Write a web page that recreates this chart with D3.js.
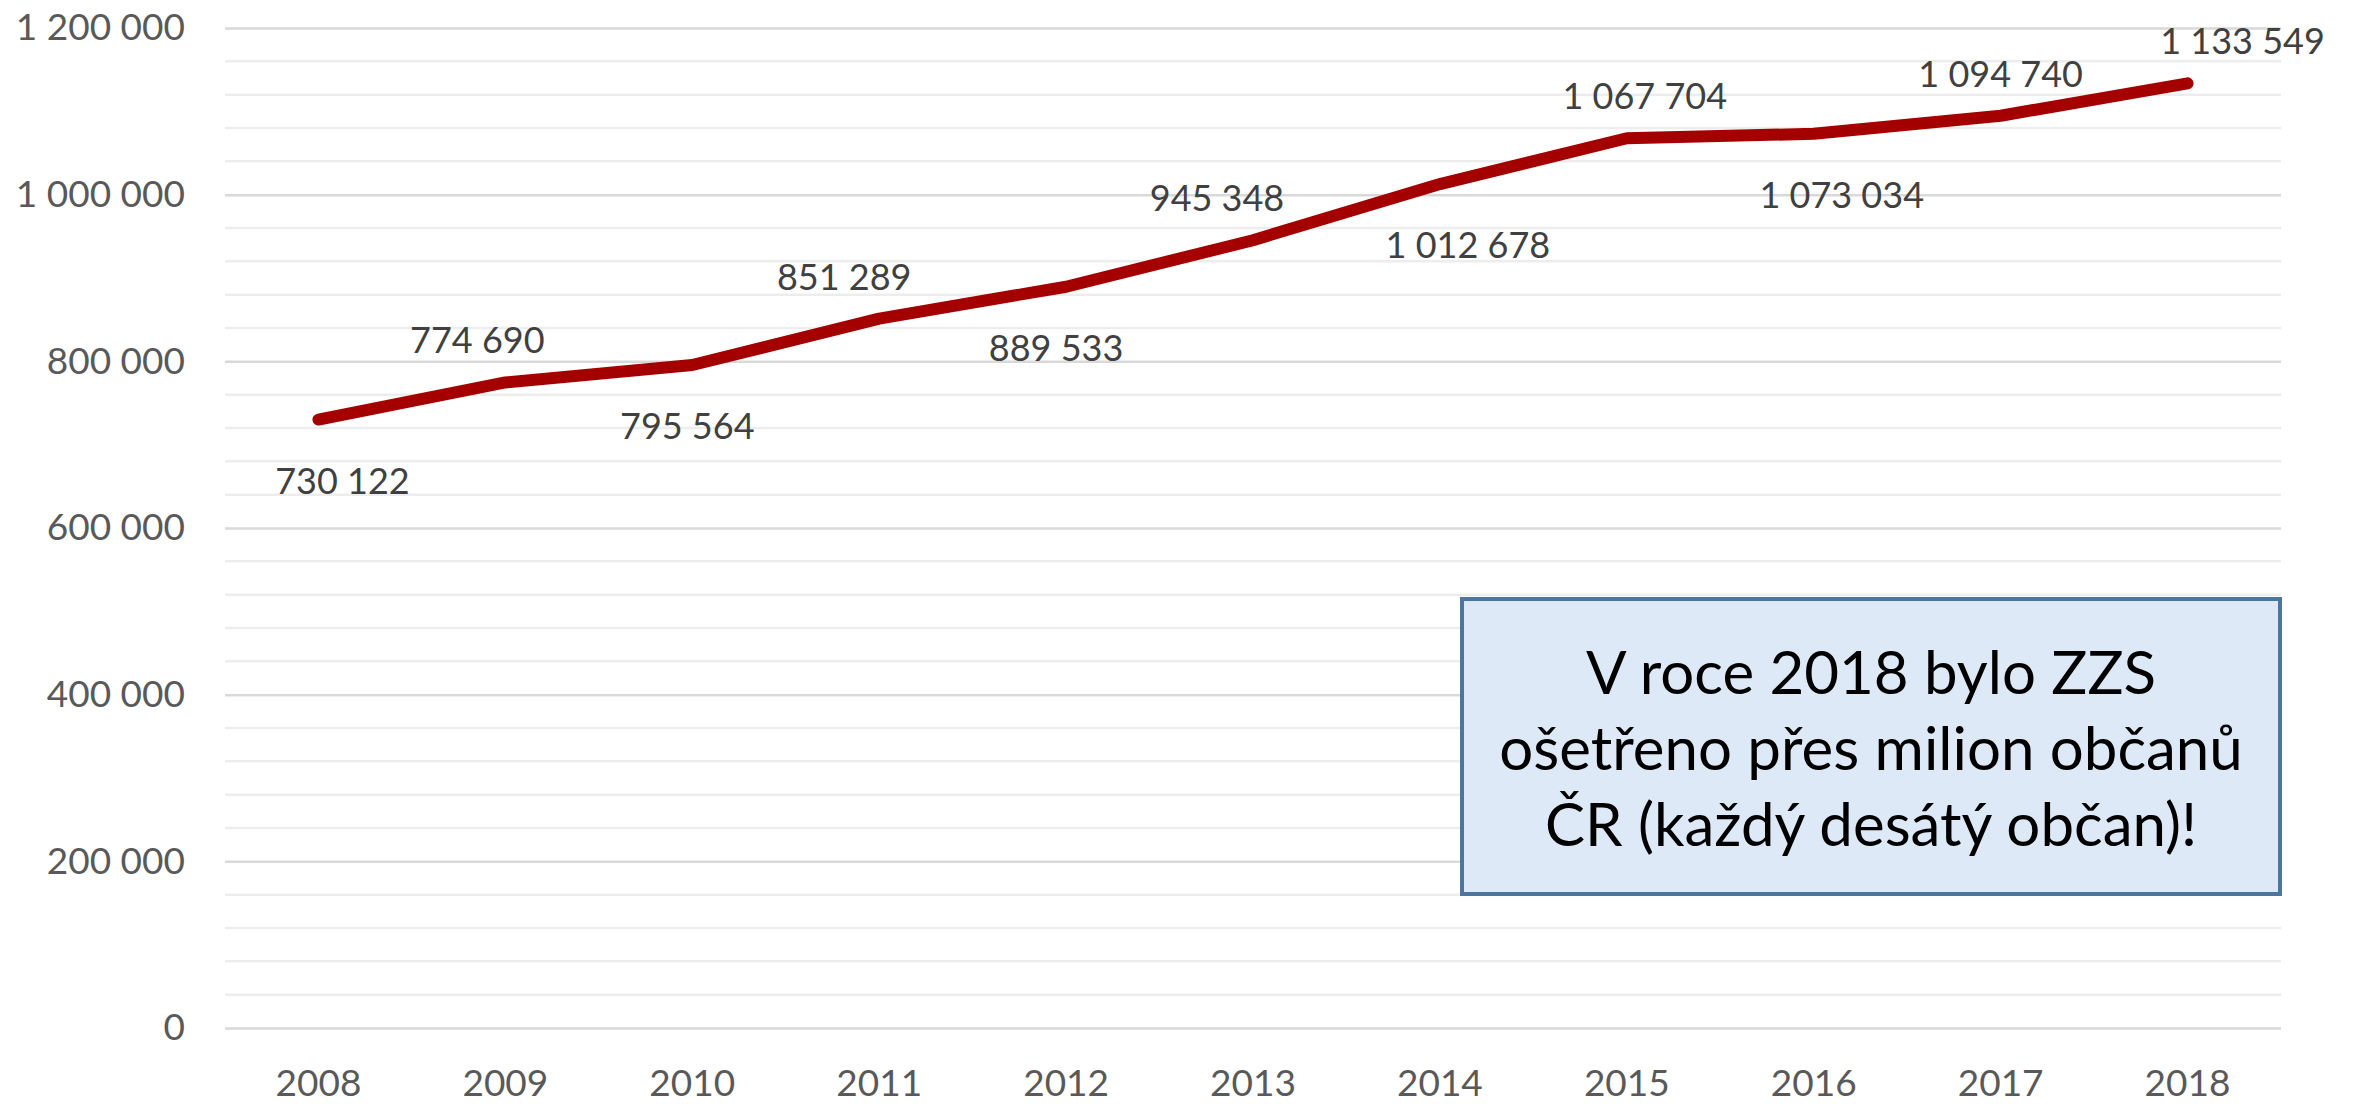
<!DOCTYPE html>
<html>
<head>
<meta charset="utf-8">
<script src="https://cdn.jsdelivr.net/npm/d3@7"></script>
<style>
  body { margin: 0; background: #fff; }
  svg { display: block; font-family: Lato, "Open Sans", sans-serif; }
</style>
</head>
<body>
<div id="chart"></div>
<script>
// data
var years = ["2008", "2009", "2010", "2011", "2012", "2013", "2014", "2015", "2016", "2017", "2018"];
var patients = [730122, 774690, 795564, 851289, 889533, 945348, 1012678, 1067704, 1073034, 1094740, 1133549];
var yTicks = [0, 200000, 400000, 600000, 800000, 1000000, 1200000];
var noteLines = ["V roce 2018 bylo ZZS", "ošetřeno přes milion občanů", "ČR (každý desátý občan)!"];

// label placement (above / below the line, small horizontal nudge in px)
var labelSide = ["below", "above", "below", "above", "below", "above", "below", "above", "below", "above", "above"];
var labelNudge = [24, -28, -5, -35, -10, -36, 28, 18, 28, 0, 55];

var width = 2353, height = 1104;
var margin = { top: 28, right: 72, bottom: 76, left: 225 };

var svg = d3.select("#chart").append("svg")
  .attr("width", width)
  .attr("height", height);

var x = d3.scaleBand()
  .domain(years)
  .range([margin.left, width - margin.right]);

var y = d3.scaleLinear()
  .domain([0, 1200000])
  .range([height - margin.bottom, margin.top]);

// minor gridlines every 40 000
var minor = d3.range(0, 1200001, 40000).filter((v) => v % 200000 !== 0);
svg.append("g")
  .selectAll("line")
  .data(minor)
  .enter()
  .append("line")
  .attr("x1", margin.left)
  .attr("x2", width - margin.right)
  .attr("y1", (d) => y(d))
  .attr("y2", (d) => y(d))
  .attr("stroke", "#ededed")
  .attr("stroke-width", 2.5);

// major gridlines
svg.append("g")
  .attr("transform", `translate(${margin.left},0)`)
  .call(d3.axisLeft(y).tickValues(yTicks).tickSize(-(width - margin.left - margin.right)).tickPadding(40)
    .tickFormat((d) => d3.format(",")(d).replace(/,/g, " ")))
  .call((g) => g.select(".domain").remove())
  .call((g) => g.selectAll(".tick line").attr("stroke", "#d9d9d9").attr("stroke-width", 2.5))
  .call((g) => g.selectAll(".tick text").attr("fill", "#595959").attr("font-size", "37px"))
  .attr("font-family", "Lato, 'Open Sans', sans-serif");

// x axis
svg.append("g")
  .attr("transform", `translate(0,${height - margin.bottom})`)
  .call(d3.axisBottom(x).tickSize(0).tickPadding(42))
  .call((g) => g.select(".domain").remove())
  .call((g) => g.selectAll(".tick text").attr("fill", "#595959").attr("font-size", "37px"))
  .attr("font-family", "Lato, 'Open Sans', sans-serif");

// line
var pts = years.map((yr, i) => ({ year: yr, value: patients[i] }));
var line = d3.line()
  .x((d) => x(d.year) + x.bandwidth() / 2)
  .y((d) => y(d.value));

svg.append("path")
  .datum(pts)
  .attr("d", line)
  .attr("fill", "none")
  .attr("stroke", "#a50000")
  .attr("stroke-width", 12)
  .attr("stroke-linecap", "round")
  .attr("stroke-linejoin", "round");

// data labels
svg.append("g")
  .selectAll("text")
  .data(pts)
  .enter()
  .append("text")
  .attr("x", (d, i) => x(d.year) + x.bandwidth() / 2 + labelNudge[i])
  .attr("y", (d, i) => y(d.value) + (labelSide[i] === "above" ? -42 : 61))
  .attr("dy", "0.36em")
  .attr("text-anchor", "middle")
  .attr("font-size", "36px")
  .attr("fill", "#404040")
  .text((d) => d3.format(",")(d.value).replace(/,/g, " "));

// note box
var box = { x: 1462, y: 599, w: 818, h: 295 };
svg.append("rect")
  .attr("x", box.x)
  .attr("y", box.y)
  .attr("width", box.w)
  .attr("height", box.h)
  .attr("fill", "#dde9f6")
  .attr("stroke", "#4a76a0")
  .attr("stroke-width", 4);

svg.append("g")
  .selectAll("text")
  .data(noteLines)
  .enter()
  .append("text")
  .attr("x", box.x + box.w / 2)
  .attr("y", (d, i) => 694 + i * 76)
  .attr("text-anchor", "middle")
  .attr("font-size", "60px")
  .attr("fill", "#000")
  .text((d) => d);
</script>
</body>
</html>
